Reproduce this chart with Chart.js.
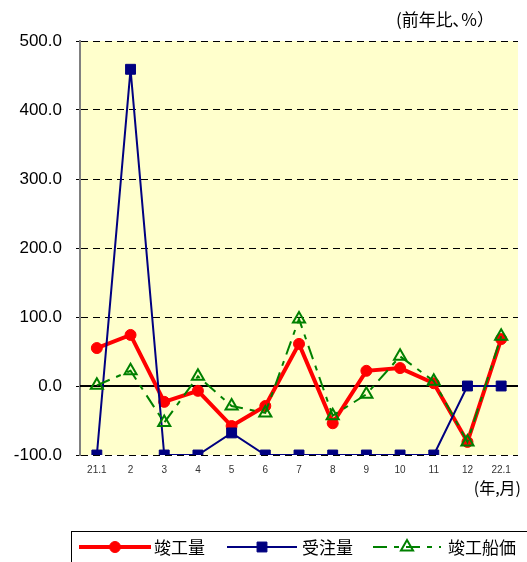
<!DOCTYPE html>
<html lang="ja">
<head>
  <meta charset="UTF-8">
  <title>竣工量・受注量・竣工船価</title>
  <script src="https://cdn.jsdelivr.net/npm/chart.js"></script>
  <style>
    body { margin: 0; background: #fff; }
    #wrap { position: relative; width: 527px; height: 562px; overflow: hidden; }
  </style>
</head>
<body>
  <div id="wrap"><canvas id="chart" width="527" height="562"></canvas></div>

  <script>
    // 年,月
    const months = ['21.1', '2', '3', '4', '5', '6', '7', '8', '9', '10', '11', '12', '22.1'];
    // 前年比 (%)
    const kankoRyo = [55, 74, -23, -7, -58, -29, 61, -54, 22, 26, 4, -81, 68];
    const juchuRyo = [-100, 459, -100, -100, -68, -100, -100, -100, -100, -100, -100, 0, 0];
    const kankoSenka = [1, 22, -53, 14, -29, -39, 97, -43, -12, 43, 7, -81, 72];
    const yTicks = [-100, 0, 100, 200, 300, 400, 500];

    const latin = "'Liberation Sans', Arial, sans-serif";
    const cjk = "'Noto Sans CJK JP', 'Liberation Sans', sans-serif";

    // plot background, zero line, extra labels and legend box
    const decor = {
      id: 'decor',
      beforeDraw(chart) {
        const { ctx, chartArea: a } = chart;
        ctx.save();
        ctx.fillStyle = '#ffffcc';
        ctx.fillRect(a.left, a.top, a.right - a.left, a.bottom - a.top);
        ctx.restore();
      },
      beforeDatasetsDraw(chart) {
        const { ctx, chartArea: a } = chart;
        const y0 = chart.scales.y.getPixelForValue(0);
        ctx.save();
        ctx.strokeStyle = '#000';
        ctx.lineWidth = 2;
        ctx.beginPath();
        ctx.moveTo(a.left, y0);
        ctx.lineTo(a.right, y0);
        ctx.stroke();
        ctx.restore();
      },
      afterDraw(chart) {
        const ctx = chart.ctx;
        ctx.save();
        ctx.fillStyle = '#000';
        ctx.textBaseline = 'middle';
        ctx.textAlign = 'right';
        ctx.font = '17px ' + cjk;
        ctx.fillText('(前年比､%）', 494, 20);
        ctx.font = '16px ' + cjk;
        ctx.fillText('(年,月)', 521, 488);

        // legend
        ctx.strokeStyle = '#000';
        ctx.lineWidth = 1;
        ctx.strokeRect(71.5, 531.5, 470, 60);
        const items = [
          { x: 79, w: 72, tx: 154 },
          { x: 227, w: 70, tx: 302 },
          { x: 373, w: 68, tx: 448 }
        ];
        const ly = 547;
        chart.data.datasets.forEach((ds, i) => {
          const it = items[i];
          ctx.save();
          ctx.strokeStyle = ds.borderColor;
          ctx.lineWidth = ds.borderWidth;
          ctx.setLineDash(ds.borderDash || []);
          ctx.beginPath();
          ctx.moveTo(it.x, ly);
          ctx.lineTo(it.x + it.w, ly);
          ctx.stroke();
          ctx.setLineDash([]);
          const cx = it.x + it.w / 2;
          const r = ds.pointRadius;
          ctx.fillStyle = ds.pointBackgroundColor;
          ctx.strokeStyle = ds.pointBorderColor;
          ctx.lineWidth = ds.pointBorderWidth;
          ctx.beginPath();
          if (ds.pointStyle === 'circle') {
            ctx.arc(cx, ly, r, 0, Math.PI * 2);
          } else if (ds.pointStyle === 'rect') {
            const s = r * Math.SQRT1_2;
            ctx.rect(cx - s, ly - s, 2 * s, 2 * s);
          } else {
            ctx.moveTo(cx, ly - r);
            ctx.lineTo(cx + r * 0.866, ly + r * 0.5);
            ctx.lineTo(cx - r * 0.866, ly + r * 0.5);
            ctx.closePath();
          }
          ctx.fill();
          ctx.stroke();
          ctx.restore();
          ctx.fillStyle = '#000';
          ctx.textAlign = 'left';
          ctx.font = '17px ' + cjk;
          ctx.fillText(ds.label, it.tx, ly + 1);
        });
        ctx.restore();
      }
    };

    new Chart(document.getElementById('chart'), {
      type: 'line',
      data: {
        labels: months,
        datasets: [
          {
            label: '竣工量',
            data: kankoRyo,
            borderColor: '#ff0000',
            borderWidth: 4,
            pointStyle: 'circle',
            pointRadius: 5.5,
            pointBackgroundColor: '#ff0000',
            pointBorderColor: '#ff0000',
            pointBorderWidth: 1,
            order: 2
          },
          {
            label: '受注量',
            data: juchuRyo,
            borderColor: '#000080',
            borderWidth: 2,
            pointStyle: 'rect',
            pointRadius: 7,
            pointBackgroundColor: '#000080',
            pointBorderColor: '#000080',
            pointBorderWidth: 1,
            order: 1
          },
          {
            label: '竣工船価',
            data: kankoSenka,
            borderColor: '#008000',
            borderWidth: 2,
            borderDash: [14, 7, 5, 7],
            pointStyle: 'triangle',
            pointRadius: 7,
            pointBackgroundColor: 'rgba(0,0,0,0)',
            pointBorderColor: '#008000',
            pointBorderWidth: 2,
            order: 0
          }
        ]
      },
      options: {
        responsive: false,
        animation: false,
        layout: { padding: { top: 41, right: 1, left: 0, bottom: 0 } },
        elements: { line: { tension: 0 } },
        plugins: {
          legend: { display: false },
          title: { display: false },
          tooltip: { enabled: false }
        },
        scales: {
          x: {
            offset: true,
            grid: { display: false, drawTicks: false },
            border: { display: false },
            ticks: {
              padding: 9,
              color: '#333',
              font: { family: latin, size: 10 },
              maxRotation: 0,
              autoSkip: false
            },
            afterFit(scale) { scale.height = 107; }
          },
          y: {
            min: -100,
            max: 500,
            afterBuildTicks(scale) {
              scale.ticks = yTicks.map(v => ({ value: v }));
            },
            grid: { color: '#000', lineWidth: 1, drawTicks: true, tickLength: 4, tickColor: '#000' },
            border: { display: true, color: '#808080', width: 2, dash: [7, 5] },
            ticks: {
              padding: 14,
              color: '#000',
              font: { family: latin, size: 17 },
              callback: v => v.toFixed(1)
            },
            afterFit(scale) { scale.width = 80; }
          }
        }
      },
      plugins: [decor]
    });
  </script>
</body>
</html>
